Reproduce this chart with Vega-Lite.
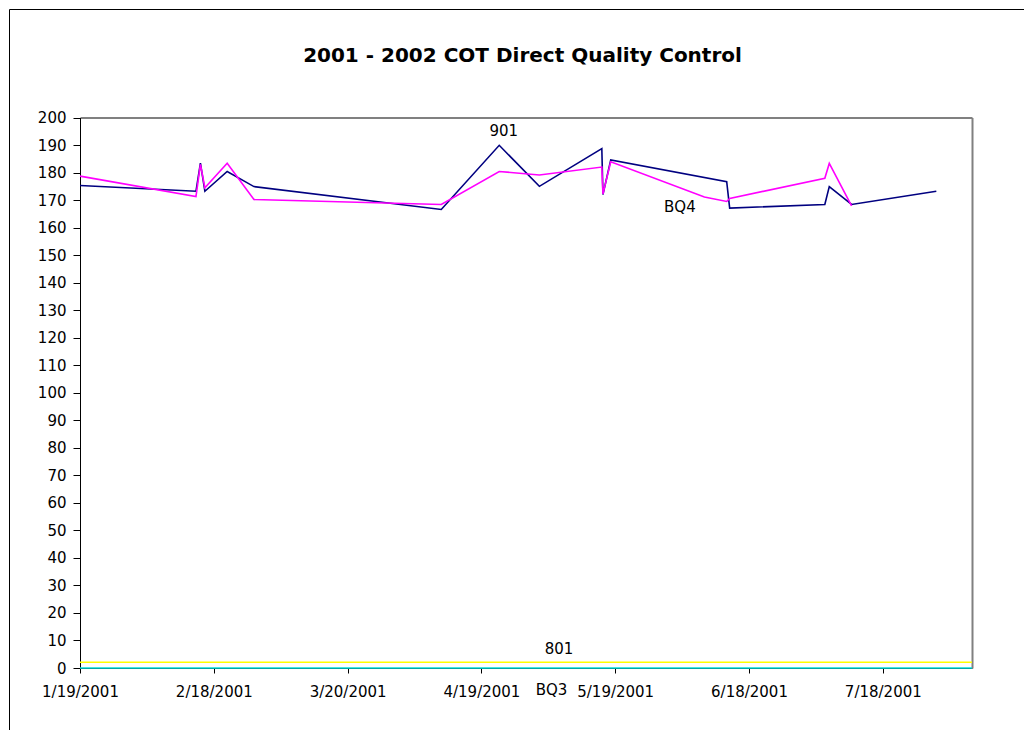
{
  "$schema": "https://vega.github.io/schema/vega-lite/v6.json",
  "width": 1015,
  "height": 721,
  "autosize": "none",
  "padding": {"left": 9, "top": 9, "right": 0, "bottom": 0},
  "background": "white",
  "config": {
    "view": {"stroke": "black", "strokeWidth": 1},
    "font": "DejaVu Sans",
    "axis": {"grid": false, "labelFont": "DejaVu Sans", "labelFontSize": 15, "labelColor": "black", "domainColor": "black", "tickColor": "black", "title": null}
  },
  "title": {
    "text": "2001 - 2002 COT Direct Quality Control",
    "font": "DejaVu Sans",
    "fontSize": 20,
    "fontWeight": "bold",
    "color": "black",
    "anchor": "middle",
    "frame": "group",
    "offset": -57,
    "dx": 6
  },
  "datasets": {
    "lines": [
      {"series": "901", "date": "2001-01-19", "value": 175.3},
      {"series": "901", "date": "2001-02-14", "value": 173.2},
      {"series": "901", "date": "2001-02-15", "value": 183.4},
      {"series": "901", "date": "2001-02-16", "value": 173.2},
      {"series": "901", "date": "2001-02-21", "value": 180.4},
      {"series": "901", "date": "2001-02-27", "value": 174.9},
      {"series": "901", "date": "2001-04-10", "value": 166.6},
      {"series": "901", "date": "2001-04-23", "value": 189.9},
      {"series": "901", "date": "2001-05-02", "value": 175.0},
      {"series": "901", "date": "2001-05-16T00:00:00Z", "value": 188.7},
      {"series": "901", "date": "2001-05-16T06:00:00Z", "value": 172.0},
      {"series": "901", "date": "2001-05-18", "value": 184.6},
      {"series": "901", "date": "2001-06-13T00:00:00Z", "value": 176.7},
      {"series": "901", "date": "2001-06-13T16:00:00Z", "value": 167.1},
      {"series": "901", "date": "2001-07-05", "value": 168.4},
      {"series": "901", "date": "2001-07-06", "value": 174.9},
      {"series": "901", "date": "2001-07-11", "value": 168.4},
      {"series": "901", "date": "2001-07-30", "value": 173.2},
      {"series": "BQ4", "date": "2001-01-19", "value": 178.7},
      {"series": "BQ4", "date": "2001-02-14", "value": 171.3},
      {"series": "BQ4", "date": "2001-02-15", "value": 183.0},
      {"series": "BQ4", "date": "2001-02-16", "value": 174.5},
      {"series": "BQ4", "date": "2001-02-21", "value": 183.4},
      {"series": "BQ4", "date": "2001-02-27", "value": 170.2},
      {"series": "BQ4", "date": "2001-04-10", "value": 168.4},
      {"series": "BQ4", "date": "2001-04-23", "value": 180.4},
      {"series": "BQ4", "date": "2001-05-02", "value": 179.1},
      {"series": "BQ4", "date": "2001-05-16T00:00:00Z", "value": 182.0},
      {"series": "BQ4", "date": "2001-05-16T06:00:00Z", "value": 172.2},
      {"series": "BQ4", "date": "2001-05-18", "value": 183.9},
      {"series": "BQ4", "date": "2001-06-08", "value": 171.1},
      {"series": "BQ4", "date": "2001-06-13T00:00:00Z", "value": 169.5},
      {"series": "BQ4", "date": "2001-06-13T16:00:00Z", "value": 170.6},
      {"series": "BQ4", "date": "2001-07-05", "value": 177.9},
      {"series": "BQ4", "date": "2001-07-06", "value": 183.3},
      {"series": "BQ4", "date": "2001-07-11", "value": 167.9},
      {"series": "801", "date": "2001-01-19", "value": 2.1},
      {"series": "801", "date": "2001-08-07", "value": 2.1},
      {"series": "BQ3", "date": "2001-01-19", "value": 0},
      {"series": "BQ3", "date": "2001-08-07", "value": 0}
    ],
    "labels": [
      {"label": "901", "date": "2001-04-24T00:00:00Z", "value": 195.1},
      {"label": "BQ4", "date": "2001-06-02T12:00:00Z", "value": 167.4},
      {"label": "801", "date": "2001-05-06T10:00:00Z", "value": 7.0},
      {"label": "BQ3", "date": "2001-05-04T17:00:00Z", "value": -8.0}
    ]
  },
  "layer": [
    {
      "data": {"name": "lines"},
      "mark": {"type": "line", "clip": false},
      "encoding": {
        "x": {
          "field": "date",
          "type": "temporal",
          "scale": {"type": "utc", "domain": ["2001-01-19T00:00:00Z", "2001-08-07T00:00:00Z"], "range": [71, 963], "nice": false},
          "axis": {
            "orient": "bottom",
            "offset": -62,
            "values": [
              {"year": 2001, "month": 1, "date": 19, "utc": true},
              {"year": 2001, "month": 2, "date": 18, "utc": true},
              {"year": 2001, "month": 3, "date": 20, "utc": true},
              {"year": 2001, "month": 4, "date": 19, "utc": true},
              {"year": 2001, "month": 5, "date": 19, "utc": true},
              {"year": 2001, "month": 6, "date": 18, "utc": true},
              {"year": 2001, "month": 7, "date": 18, "utc": true}
            ],
            "format": "%-m/%-d/%Y",
            "tickSize": 5,
            "labelPadding": 11,
            "labelFlush": false,
            "labelOverlap": false
          }
        },
        "y": {
          "field": "value",
          "type": "quantitative",
          "scale": {"domain": [0, 200], "range": [659, 108.5], "nice": false, "zero": true},
          "axis": {
            "orient": "left",
            "offset": -71,
            "values": [0, 10, 20, 30, 40, 50, 60, 70, 80, 90, 100, 110, 120, 130, 140, 150, 160, 170, 180, 190, 200],
            "tickSize": 7,
            "labelPadding": 7,
            "labelFlush": false,
            "labelOverlap": false
          }
        },
        "color": {
          "field": "series",
          "type": "nominal",
          "scale": {"domain": ["901", "BQ4", "801", "BQ3"], "range": ["#000080", "#FF00FF", "#FFFF00", "#00E0E0"]},
          "legend": null
        },
        "strokeWidth": {
          "field": "series",
          "type": "nominal",
          "scale": {"domain": ["901", "BQ4", "801", "BQ3"], "range": [1.6, 1.6, 2, 2.5]},
          "legend": null
        }
      }
    },
    {
      "data": {"name": "labels"},
      "mark": {"type": "text", "font": "DejaVu Sans", "fontSize": 15, "color": "black", "align": "center", "baseline": "middle", "clip": false},
      "encoding": {
        "x": {
          "field": "date",
          "type": "temporal",
          "scale": {"type": "utc", "domain": ["2001-01-19T00:00:00Z", "2001-08-07T00:00:00Z"], "range": [71, 963], "nice": false},
          "axis": {"orient": "top", "offset": -108.5, "domainColor": "#808080", "domainWidth": 2, "ticks": false, "labels": false}
        },
        "y": {
          "field": "value",
          "type": "quantitative",
          "scale": {"domain": [0, 200], "range": [659, 108.5], "nice": false, "zero": true},
          "axis": {"orient": "right", "offset": -52, "domainColor": "#808080", "domainWidth": 2, "ticks": false, "labels": false}
        },
        "text": {"field": "label", "type": "nominal"}
      }
    }
  ],
  "resolve": {"axis": {"x": "independent", "y": "independent"}}
}
